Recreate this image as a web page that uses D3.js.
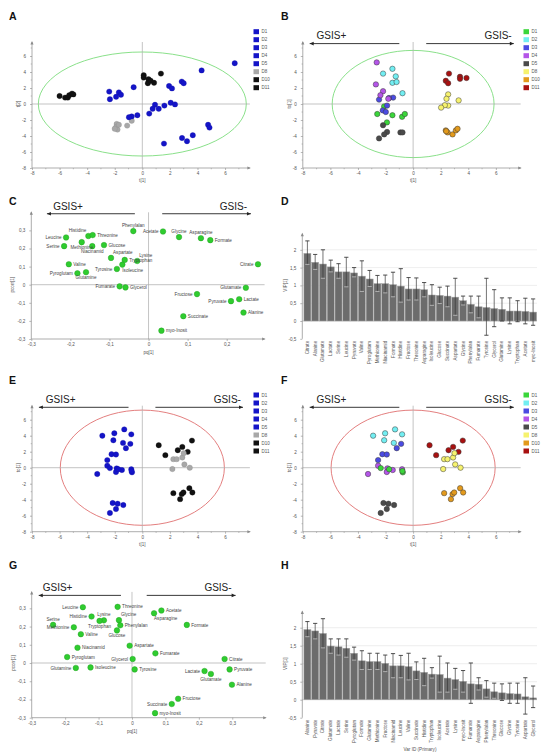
<!DOCTYPE html>
<html><head><meta charset="utf-8">
<script src="https://cdn.jsdelivr.net/npm/d3@7"></script>
<style>body{margin:0;background:#fff} svg{display:block;font-family:"Liberation Sans",Arial,sans-serif}</style>
</head><body><svg id="c" width="541" height="754"></svg>
<script>
// ---------------- DATA ----------------
const groups = ["D1","D2","D3","D4","D5","D8","D10","D11"];
const scoreTicks = [-8,-6,-4,-2,0,2,4,6];
const loadTicksC_x = [-0.3,-0.2,-0.1,0,0.1,0.2];
const loadTicksG_x = [-0.3,-0.2,-0.1,0,0.1,0.2,0.3];
const loadTicks_y = [-0.3,-0.2,-0.1,0,0.1,0.2,0.3];
const vipTicks = [-0.5,0,0.5,1,1.5,2];

// Hotelling ellipse semi-axes (t units)
const ellipseA = [7.54, 6.5];
const ellipseB = [5.87, 6.7];
const ellipseEF = [5.95, 7.2];

const scoresA = [
 [-6.0,1.0,"D10"],[-5.6,0.8,"D10"],[-5.4,0.8,"D10"],[-5.3,1.1,"D10"],[-5.1,1.3,"D10"],[-5.0,1.2,"D10"],
 [0.1,3.6,"D11"],[0.1,3.3,"D11"],[0.45,3.1,"D11"],[0.4,2.6,"D11"],[0.85,2.65,"D11"],[1.35,3.8,"D11"],[0.6,2.9,"D11"],
 [-1.86,-2.5,"D8"],[-1.9,-2.9,"D8"],[-1.8,-3.2,"D8"],[-2.0,-3.1,"D8"],[-1.1,-2.7,"D8"],[-0.77,-2.1,"D8"],[-1.7,-2.6,"D8"],
 [6.7,5.1,"D1"],[4.3,4.2,"D1"],[2.86,2.8,"D1"],[3.0,2.6,"D1"],[1.94,2.25,"D1"],[2.15,1.95,"D1"],
 [-0.63,2.1,"D2"],[-2.4,1.55,"D2"],[-1.7,1.45,"D2"],[-1.55,1.15,"D2"],[-1.9,0.9,"D2"],[-2.35,0.6,"D2"],
 [2.06,0.15,"D3"],[2.37,-0.05,"D3"],[1.6,-0.2,"D3"],[0.92,-0.1,"D3"],[1.19,-0.6,"D3"],[0.75,-0.6,"D3"],
 [0.5,-1.2,"D4"],[-0.36,-1.4,"D4"],[-0.77,-1.55,"D4"],[-0.97,-1.65,"D4"],
 [4.77,-2.6,"D5"],[4.87,-2.95,"D5"],[3.66,-3.9,"D5"],[2.88,-4.25,"D5"],[3.24,-4.65,"D5"],[1.57,-4.95,"D5"]
];

const scoresB = [
 [-2.6,-1.25,"D1"],[-2.1,-0.3,"D1"],[-1.9,-2.3,"D1"],[-1.5,-1.4,"D1"],[-0.8,-1.6,"D1"],[-0.6,-1.25,"D1"],
 [-2.18,3.8,"D2"],[-1.5,4.4,"D2"],[-1.26,3.45,"D2"],[-1.5,2.65,"D2"],[-1.2,2.75,"D2"],[-0.77,1.35,"D2"],
 [-2.47,0.55,"D3"],[-1.89,-0.2,"D3"],[-2.2,-0.8,"D3"],[-1.98,-1.0,"D3"],[-1.45,0.8,"D3"],[-1.75,0.75,"D3"],
 [-2.64,5.2,"D4"],[-2.7,2.45,"D4"],[-2.18,1.6,"D4"],[-2.37,1.1,"D4"],[-1.8,0.65,"D4"],
 [-2.18,-2.65,"D5"],[-1.89,-3.5,"D5"],[-2.1,-3.8,"D5"],[-2.47,-4.3,"D5"],[-0.92,-3.55,"D5"],[-0.77,-3.55,"D5"],
 [2.54,1.2,"D8"],[2.42,0.65,"D8"],[3.3,0.45,"D8"],[2.54,-0.2,"D8"],[2.3,-0.15,"D8"],[2.03,-0.45,"D8"],
 [2.37,-3.3,"D10"],[2.5,-3.55,"D10"],[2.86,-3.8,"D10"],[3.1,-3.3,"D10"],[3.22,-3.1,"D10"],[2.4,-3.4,"D10"],
 [2.6,3.8,"D11"],[2.37,2.9,"D11"],[2.54,2.6,"D11"],[3.4,3.4,"D11"],[3.4,3.15,"D11"],[3.87,3.25,"D11"]
];

const scoresEF = [
 [-2.9,4.0,"D2"],[-2.03,4.3,"D2"],[-1.31,4.79,"D2"],[-0.8,4.17,"D2"],[-2.1,3.43,"D2"],[-1.4,3.1,"D2"],
 [-0.87,2.98,"D3"],[-1.19,2.44,"D3"],[-2.23,1.69,"D3"],[-1.91,1.65,"D3"],[-2.54,0.95,"D3"],
 [-2.54,0.25,"D4"],[-3.27,-0.79,"D4"],[-1.86,-0.08,"D4"],[-1.91,-0.54,"D4"],[-1.48,-0.29,"D4"],[-0.8,-0.2,"D4"],
 [-2.35,-0.05,"D1"],[-0.75,-0.58,"D1"],[-0.78,-0.42,"D1"],[-1.74,-0.2,"D1"],
 [-2.15,-4.42,"D5"],[-1.79,-4.5,"D5"],[-1.38,-4.67,"D5"],[-1.91,-5.17,"D5"],[-2.35,-5.66,"D5"],
 [1.19,2.81,"D11"],[1.67,1.57,"D11"],[2.57,2.19,"D11"],[2.9,2.6,"D11"],[3.29,1.98,"D11"],[3.6,3.39,"D11"],
 [2.25,1.07,"D8"],[2.49,1.07,"D8"],[2.9,1.28,"D8"],[3.0,1.82,"D8"],[2.18,-0.17,"D8"],[3.05,0.41,"D8"],[3.44,0,"D8"],
 [2.25,-3.18,"D10"],[2.86,-3.3,"D10"],[2.98,-3.1,"D10"],[2.74,-3.93,"D10"],[3.41,-2.56,"D10"],[3.63,-3.1,"D10"]
];

const loadingsC = [
 ["Phenylalan",-0.039,0.296],["Acetate",0.037,0.294],["Glycine",0.078,0.263],["Asparagine",0.134,0.257],
 ["Formate",0.158,0.246],["Leucine",-0.211,0.261],["Serine",-0.216,0.213],["Histidine",-0.154,0.269],
 ["Threonine",-0.143,0.274],["Methionine",-0.171,0.235],["Niacinamid",-0.144,0.213],["Glucose",-0.114,0.219],
 ["Aspartate",-0.096,0.148],["Tryptophan",-0.061,0.137],["Lysine",-0.029,0.131],["Tyrosine",-0.081,0.087],
 ["Isoleucine",-0.067,0.111],["Valine",-0.204,0.113],["Pyroglutam",-0.182,0.063],["Glutamine",-0.160,0.069],
 ["Fumarate",-0.074,-0.009],["Glycerol",-0.059,-0.015],["Citrate",0.280,0.113],["Glutamate",0.249,-0.017],
 ["Fructose",0.124,-0.052],["Lactate",0.232,-0.080],["Pyruvate",0.211,-0.091],["Alanine",0.243,-0.154],
 ["Succinate",0.089,-0.174],["myo-Inosit",0.033,-0.254]
];
const labelSideC = {Phenylalan:"a",Acetate:"l",Glycine:"a",Asparagine:"a",Formate:"r",Leucine:"l",Serine:"l",
 Histidine:"al",Threonine:"r",Methionine:"b",Niacinamid:"b",Glucose:"r",Aspartate:"ar",Tryptophan:"r",Lysine:"ar",
 Tyrosine:"l",Isoleucine:"br",Valine:"r",Pyroglutam:"l",Glutamine:"b",Fumarate:"l",Glycerol:"r",Citrate:"l",
 Glutamate:"l",Fructose:"l",Lactate:"r",Pyruvate:"l",Alanine:"r",Succinate:"r","myo-Inosit":"r"};

const loadingsG = [
 ["Leucine",-0.147,0.306],["Threonine",-0.043,0.308],["Acetate",0.088,0.288],["Asparagine",0.066,0.273],
 ["Histidine",-0.121,0.255],["Lysine",-0.084,0.234],["Tryptophan",-0.097,0.231],["Glycine",-0.039,0.235],
 ["Phenylalan",-0.035,0.207],["Serine",-0.236,0.209],["Methionine",-0.174,0.196],["Formate",0.164,0.209],
 ["Glucose",-0.045,0.179],["Valine",-0.153,0.158],["Aspartate",-0.007,0.095],["Niacinamid",-0.163,0.084],
 ["Fumarate",0.070,0.053],["Pyroglutam",-0.194,0.033],["Glycerol",0.002,0.022],["Citrate",0.277,0.022],
 ["Glutamine",-0.168,-0.027],["Isoleucine",-0.124,-0.024],["Tyrosine",0.008,-0.035],["Pyruvate",0.292,-0.035],
 ["Lactate",0.217,-0.044],["Glutamate",0.236,-0.060],["Alanine",0.299,-0.119],["Fructose",0.138,-0.196],
 ["Succinate",0.119,-0.225],["myo-Inosit",0.069,-0.275]
];
const labelSideG = {Leucine:"l",Threonine:"r",Acetate:"r",Asparagine:"br",Histidine:"l",Lysine:"a",Tryptophan:"b",
 Glycine:"ar",Phenylalan:"r",Serine:"a",Methionine:"l",Formate:"r",Glucose:"b",Valine:"r",Aspartate:"r",
 Niacinamid:"r",Fumarate:"r",Pyroglutam:"r",Glycerol:"l",Citrate:"r",Glutamine:"l",Isoleucine:"r",Tyrosine:"r",
 Pyruvate:"r",Lactate:"l",Glutamate:"b",Alanine:"r",Fructose:"r",Succinate:"l","myo-Inosit":"r"};

const vipD_names = ["Citrate","Alanine","Glutamate","Lactate","Serine","Leucine","Pyruvate","Valine","Pyroglutam",
 "Methionine","Niacinamid","Formate","Histidine","Fructose","Threonine","Asparagine","Isoleucine","Glucose",
 "Succinate","Aspartate","Glycine","Phenylalan","Fumarate","Tyrosine","Glycerol","Glutamine","Lysine",
 "Tryptophan","Acetate","myo-Inosit"];
const vipD_vals = [1.9,1.65,1.6,1.52,1.38,1.38,1.35,1.26,1.18,1.05,1.05,1.02,0.98,0.9,0.9,0.88,0.73,0.72,0.7,0.67,
 0.57,0.47,0.40,0.38,0.35,0.33,0.28,0.28,0.27,0.25];
const vipD_hi = [2.25,1.87,2.0,1.71,1.61,1.79,1.5,1.69,1.42,1.28,1.29,1.37,1.47,1.22,1.21,1.08,1.02,0.95,0.98,1.2,
 0.70,0.70,0.70,1.2,0.88,0.65,0.65,0.57,0.64,0.62];
const vipD_lo = [1.59,1.45,1.2,1.38,1.2,0.96,1.24,0.83,0.97,0.83,0.79,0.68,0.53,0.59,0.59,0.68,0.44,0.49,0.40,0.16,
 0.45,0.23,0.09,-0.4,-0.16,0.0,-0.08,-0.02,-0.08,-0.12];

const vipH_names = ["Alanine","Pyruvate","Citrate","Glutamate","Lactate","Serine","Pyroglutam","Formate","Glutamine",
 "Methionine","Fructose","Niacinamid","Leucine","Valine","Succinate","Histidine","Tryptophan","Isoleucine","Acetate",
 "Lysine","myo-Inosit","Fumarate","Asparagine","Phenylalan","Threonine","Glucose","Glycine","Tyrosine","Aspartate","Glycerol"];
const vipH_vals = [1.95,1.91,1.84,1.49,1.47,1.43,1.29,1.08,1.06,1.06,1.01,0.94,0.94,0.92,0.8,0.76,0.71,0.70,0.6,0.56,
 0.51,0.44,0.43,0.3,0.22,0.19,0.17,0.16,0.08,0.05];
const vipH_hi = [2.17,2.12,2.25,1.69,1.69,1.69,1.46,1.36,1.29,1.29,1.24,1.28,1.23,1.29,1.05,1.15,0.89,1.21,1.02,0.87,
 0.81,1.02,0.61,0.53,0.46,0.44,0.46,0.46,0.61,0.38];
const vipH_lo = [1.75,1.69,1.44,1.29,1.24,1.18,1.1,0.84,0.84,0.84,0.78,0.61,0.61,0.55,0.56,0.39,0.6,0.21,0.21,0.29,
 0.21,-0.1,0.27,0.07,0.04,-0.02,-0.1,-0.1,-0.4,-0.22];

// ---------------- STYLE ----------------
const colorsGroup = {D1:"#3ad63a",D2:"#72eef2",D3:"#4b4be2",D4:"#b455e8",D5:"#4a4a4a",D8:"#f6f26e",D10:"#e39a1c",D11:"#a81010"};
const colorsMono = {D1:"#1414c8",D2:"#1414c8",D3:"#1414c8",D4:"#1414c8",D5:"#1414c8",D8:"#a8a8a8",D10:"#111",D11:"#111"};
const fmt = d => String(d).replace(".", ",");
const svg = d3.select("#c");
const AX = "#8a8a8a", TXT = "#555";

function tri(g, x, y, dir, s, col){
  let p;
  if(dir==="up") p=[[x,y],[x-s*0.45,y+s],[x+s*0.45,y+s]];
  else if(dir==="right") p=[[x,y],[x-s,y-s*0.45],[x-s,y+s*0.45]];
  else p=[[x,y],[x+s,y-s*0.45],[x+s,y+s*0.45]];
  g.append("path").attr("d","M"+p.map(q=>q.join(",")).join("L")+"Z").attr("fill",col);
}
function letter(t,x,y){ svg.append("text").attr("x",x).attr("y",y).attr("font-size",10.5).attr("font-weight","bold").attr("fill","#111").text(t); }
function gsis(g, xs, ys, a){
  g.append("line").attr("x1",xs(a.pt)).attr("x2",xs(a.pf)).attr("y1",ys(a.ly)).attr("y2",ys(a.ly)).attr("stroke","#222").attr("stroke-width",0.9);
  tri(g, xs(a.pf), ys(a.ly), "left", 4, "#222");
  g.append("line").attr("x1",xs(a.mf)).attr("x2",xs(a.mt)).attr("y1",ys(a.ly)).attr("y2",ys(a.ly)).attr("stroke","#222").attr("stroke-width",0.9);
  tri(g, xs(a.mt), ys(a.ly), "right", 4, "#222");
  g.append("text").attr("x",xs(a.ps)).attr("y",ys(a.ty)).attr("font-size",10).attr("fill","#222").text("GSIS+");
  g.append("text").attr("x",xs(a.me)).attr("y",ys(a.ty)).attr("text-anchor","end").attr("font-size",10).attr("fill","#222").text("GSIS-");
}

// ---------------- SCORE PANELS ----------------
function scorePanel(o){
  const g = svg.append("g");
  const x = d3.scaleLinear().domain([-8,8]).range([o.left, o.left+16*13.79]);
  const y = d3.scaleLinear().domain([-8,8]).range([o.zeroY+64, o.zeroY-64]);
  g.append("ellipse").attr("cx",x(0)).attr("cy",y(0)).attr("rx",x(o.ell[0])-x(0)).attr("ry",y(0)-y(o.ell[1]))
    .attr("fill","none").attr("stroke",o.ellCol).attr("stroke-width",0.9);
  g.append("line").attr("x1",x(0)).attr("x2",x(0)).attr("y1",y(7.75)).attr("y2",y(-8)).attr("stroke","#aaa").attr("stroke-width",0.7);
  g.append("line").attr("x1",x(-8)).attr("x2",x(7.8)).attr("y1",y(0)).attr("y2",y(0)).attr("stroke","#aaa").attr("stroke-width",0.7);
  g.append("line").attr("x1",x(-8)).attr("x2",x(-8)).attr("y1",y(-8)).attr("y2",y(7.75)).attr("stroke",AX).attr("stroke-width",0.7);
  g.append("line").attr("x1",x(-8)).attr("x2",x(7.8)).attr("y1",y(-8)).attr("y2",y(-8)).attr("stroke",AX).attr("stroke-width",0.7);
  tri(g, x(-8), y(7.75)-1, "up", 3.5, AX);
  tri(g, x(7.8)+1, y(-8), "right", 3.5, AX);
  const ya = g.append("g").attr("transform",`translate(${x(-8)},0)`).call(d3.axisLeft(y).tickValues(scoreTicks).tickSize(2).tickFormat(fmt));
  const xa = g.append("g").attr("transform",`translate(0,${y(-8)})`).call(d3.axisBottom(x).tickValues(scoreTicks).tickSize(2).tickFormat(fmt));
  [ya,xa].forEach(a=>{ a.select(".domain").remove(); a.selectAll("line").attr("stroke",AX).attr("stroke-width",0.6);
    a.selectAll("text").attr("font-size",4.6).attr("fill",TXT).attr("font-family","'Liberation Sans',Arial,sans-serif"); });
  xa.selectAll("text").attr("dy","0.5em");
  ya.selectAll("text").attr("dx","-1");
  g.selectAll(null).data(d3.range(-7,8,2)).enter().append("line").attr("x1",d=>x(d)).attr("x2",d=>x(d))
    .attr("y1",y(-8)).attr("y2",y(-8)+1.3).attr("stroke",AX).attr("stroke-width",0.5);
  g.selectAll(null).data(d3.range(-7,8,2)).enter().append("line").attr("y1",d=>y(d)).attr("y2",d=>y(d))
    .attr("x1",x(-8)).attr("x2",x(-8)-1.3).attr("stroke",AX).attr("stroke-width",0.5);
  g.append("text").attr("x",x(0)).attr("y",y(-8)+14).attr("text-anchor","middle").attr("font-size",4.6).attr("fill",TXT).text("t[1]");
  g.append("text").attr("transform",`translate(${x(-8)-12},${y(0)}) rotate(-90)`).attr("text-anchor","middle").attr("font-size",4.6).attr("fill",TXT).text(o.yLabel);
  g.selectAll(null).data(o.data).enter().append("circle")
    .attr("cx",d=>x(d[0])).attr("cy",d=>y(d[1])).attr("r",2.7)
    .attr("fill",d=>o.colors[d[2]]).attr("stroke",o.outline?"#3a3a3a":(d=>d3.color(o.colors[d[2]]).darker(0.6)))
    .attr("stroke-width",o.outline?0.5:0.3);
  const lg = g.append("g");
  groups.forEach((k,i)=>{
    lg.append("rect").attr("x",o.legX).attr("y",o.legY+i*8-2.5).attr("width",5.5).attr("height",5).attr("fill",o.colors[k]);
    lg.append("text").attr("x",o.legX+8).attr("y",o.legY+i*8+1.6).attr("font-size",4.5).attr("fill",TXT).text(k);
  });
  if(o.gsis) gsis(g, x, y, {ly:7.55, ty:8.1, pf:-7.5, pt:-1.0, mf:0.95, mt:7.3, ps:-7.0, me:7.15});
}

scorePanel({left:32, zeroY:104, data:scoresA, colors:colorsMono, outline:false, ell:ellipseA, ellCol:"#7ddc7d", legX:253.5, legY:31.7, yLabel:"t[2]", gsis:false});
scorePanel({left:302.8, zeroY:104, data:scoresB, colors:colorsGroup, outline:true, ell:ellipseB, ellCol:"#7ddc7d", legX:523.5, legY:31.7, yLabel:"to[1]", gsis:true});
scorePanel({left:32, zeroY:467.7, data:scoresEF, colors:colorsMono, outline:false, ell:ellipseEF, ellCol:"#e07070", legX:253.5, legY:395, yLabel:"to[1]", gsis:true});
scorePanel({left:302.8, zeroY:467.7, data:scoresEF, colors:colorsGroup, outline:true, ell:ellipseEF, ellCol:"#e07070", legX:523.5, legY:395, yLabel:"to[1]", gsis:true});

// ---------------- LOADING PANELS ----------------
function loadingPanel(o){
  const g = svg.append("g");
  const x = d3.scaleLinear().domain([-0.3, o.xMax]).range([o.x0, o.x0 + (o.xMax+0.3)*o.kx]);
  const y = d3.scaleLinear().domain([-0.3, 0.4]).range([o.y0, o.y0 - 0.7*o.ky]);
  g.append("line").attr("x1",x(0)).attr("x2",x(0)).attr("y1",y(o.yTop)).attr("y2",y(-0.3)).attr("stroke","#aaa").attr("stroke-width",0.7);
  g.append("line").attr("x1",x(-0.3)).attr("x2",x(o.xEnd)).attr("y1",y(0)).attr("y2",y(0)).attr("stroke","#aaa").attr("stroke-width",0.7);
  g.append("line").attr("x1",x(-0.3)).attr("x2",x(-0.3)).attr("y1",y(-0.3)).attr("y2",y(o.yTop)).attr("stroke",AX).attr("stroke-width",0.7);
  g.append("line").attr("x1",x(-0.3)).attr("x2",x(o.xEnd)).attr("y1",y(-0.3)).attr("y2",y(-0.3)).attr("stroke",AX).attr("stroke-width",0.7);
  tri(g, x(-0.3), y(o.yTop)-1, "up", 3.5, AX);
  tri(g, x(o.xEnd)+1, y(-0.3), "right", 3.5, AX);
  const ya = g.append("g").attr("transform",`translate(${x(-0.3)},0)`).call(d3.axisLeft(y).tickValues(loadTicks_y).tickSize(2).tickFormat(fmt));
  const xa = g.append("g").attr("transform",`translate(0,${y(-0.3)})`).call(d3.axisBottom(x).tickValues(o.xTicks).tickSize(2).tickFormat(fmt));
  [ya,xa].forEach(a=>{ a.select(".domain").remove(); a.selectAll("line").attr("stroke",AX).attr("stroke-width",0.6);
    a.selectAll("text").attr("font-size",4.6).attr("fill",TXT).attr("font-family","'Liberation Sans',Arial,sans-serif"); });
  xa.selectAll("text").attr("dy","0.5em");
  ya.selectAll("text").attr("dx","-1");
  g.append("text").attr("x",x(0)).attr("y",y(-0.3)+15).attr("text-anchor","middle").attr("font-size",4.6).attr("fill",TXT).text("pq[1]");
  g.append("text").attr("transform",`translate(${x(-0.3)-17},${y(0)}) rotate(-90)`).attr("text-anchor","middle").attr("font-size",4.6).attr("fill",TXT).text("pcorr[1]");
  gsis(g, x, y, o.gs);
  g.selectAll(null).data(o.data).enter().append("circle")
    .attr("cx",d=>x(d[1])).attr("cy",d=>y(d[2])).attr("r",2.8)
    .attr("fill","#2fcc2f").attr("stroke","#1f9a1f").attr("stroke-width",0.4);
  const off = {r:[4.5,1.6,"start"], l:[-4.5,1.6,"end"], a:[0,-4.2,"middle"], b:[0,7,"middle"],
     al:[-2,-4.2,"end"], ar:[2,-4.2,"start"], br:[0,7,"start"], c:[-1,1.6,"start"]};
  g.selectAll(null).data(o.data).enter().append("text")
    .attr("x",d=>x(d[1])+off[o.side[d[0]]][0]).attr("y",d=>y(d[2])+off[o.side[d[0]]][1])
    .attr("text-anchor",d=>off[o.side[d[0]]][2]).attr("font-size",4.6).attr("fill","#444").text(d=>d[0]);
}
loadingPanel({x0:31.3, kx:390.8, xMax:0.3, xEnd:0.297, y0:339, ky:181, yTop:0.4, xTicks:loadTicksC_x, data:loadingsC, side:labelSideC,
  gs:{ly:0.392, ty:0.415, pf:-0.26, pt:-0.035, mf:0.035, mt:0.262, ps:-0.244, me:0.252}});
loadingPanel({x0:31.7, kx:334.3, xMax:0.4, xEnd:0.4, y0:717.7, ky:182.3, yTop:0.39, xTicks:loadTicksG_x, data:loadingsG, side:labelSideG,
  gs:{ly:0.371, ty:0.395, pf:-0.279, pt:-0.033, mf:0.044, mt:0.31, ps:-0.267, me:0.298}});

// ---------------- VIP PANELS ----------------
function vipPanel(o){
  const g = svg.append("g");
  const x = d3.scaleBand().domain(o.names).range([303.5, 537]).paddingInner(0.1).paddingOuter(0.05);
  const y = d3.scaleLinear().domain([-0.5, 2.5]).range([o.y0 + 0.5*o.k, o.y0 - 2.5*o.k]);
  g.selectAll(null).data([0.5,1,1.5,2]).enter().append("line").attr("x1",302.3).attr("x2",537)
    .attr("y1",d=>y(d)).attr("y2",d=>y(d)).attr("stroke","#e2e2e2").attr("stroke-width",0.6);
  g.append("line").attr("x1",302.3).attr("x2",537).attr("y1",y(0)).attr("y2",y(0)).attr("stroke","#b0b0b0").attr("stroke-width",0.6);
  g.append("line").attr("x1",302.3).attr("x2",302.3).attr("y1",y(-0.5)).attr("y2",y(2.45)).attr("stroke",AX).attr("stroke-width",0.7);
  tri(g, 302.3, y(2.45)-1, "up", 3.5, AX);
  const ya = g.append("g").attr("transform","translate(302.3,0)").call(d3.axisLeft(y).tickValues(vipTicks).tickSize(2).tickFormat(fmt));
  ya.select(".domain").remove(); ya.selectAll("line").attr("stroke",AX).attr("stroke-width",0.6);
  ya.selectAll("text").attr("font-size",4.6).attr("fill",TXT).attr("dx","-1").attr("font-family","'Liberation Sans',Arial,sans-serif");
  g.append("text").attr("transform",`translate(${287},${y(1)}) rotate(-90)`).attr("text-anchor","middle").attr("font-size",4.6).attr("fill",TXT).text("VIP[1]");
  const bw = x.bandwidth();
  g.selectAll(null).data(o.names).enter().append("rect")
    .attr("x",d=>x(d)).attr("width",bw).attr("y",(d,i)=>y(o.vals[i])).attr("height",(d,i)=>y(0)-y(o.vals[i]))
    .attr("fill","#6c6c6c").attr("stroke","#a5a5a5").attr("stroke-width",0.5);
  const eg = g.selectAll(null).data(o.names).enter().append("g");
  eg.append("line").attr("x1",d=>x(d)+bw/2).attr("x2",d=>x(d)+bw/2).attr("y1",(d,i)=>y(o.hi[i])).attr("y2",(d,i)=>y(o.lo[i]))
    .attr("stroke","#3a3a3a").attr("stroke-width",0.7);
  eg.append("line").attr("x1",d=>x(d)+bw*0.2).attr("x2",d=>x(d)+bw*0.8).attr("y1",(d,i)=>y(o.hi[i])).attr("y2",(d,i)=>y(o.hi[i]))
    .attr("stroke","#3a3a3a").attr("stroke-width",0.9);
  eg.append("line").attr("x1",d=>x(d)+bw*0.2).attr("x2",d=>x(d)+bw*0.8).attr("y1",(d,i)=>y(o.lo[i])).attr("y2",(d,i)=>y(o.lo[i]))
    .attr("stroke",(d,i)=>o.lo[i] < o.vals[i] && o.lo[i] > 0 ? "#b8b8b8" : "#3a3a3a").attr("stroke-width",0.9);
  g.selectAll(null).data(o.names).enter().append("text")
    .attr("transform",d=>`translate(${x(d)+bw/2+1.5},${y(-0.5)+2}) rotate(-90)`).attr("text-anchor","end")
    .attr("font-size",4.6).attr("fill",TXT).text(d=>d);
  if(o.xLabel) g.append("text").attr("x",420).attr("y",751).attr("text-anchor","middle").attr("font-size",4.6).attr("fill",TXT).text(o.xLabel);
}
vipPanel({names:vipD_names, vals:vipD_vals, hi:vipD_hi, lo:vipD_lo, y0:321, k:35.6});
vipPanel({names:vipH_names, vals:vipH_vals, hi:vipH_hi, lo:vipH_lo, y0:699.7, k:36, xLabel:"Var ID (Primary)"});

letter("A",9,20); letter("B",281,20); letter("C",9,205); letter("D",281,205);
letter("E",9,384); letter("F",281,384); letter("G",9,569); letter("H",281,569);
</script></body></html>
